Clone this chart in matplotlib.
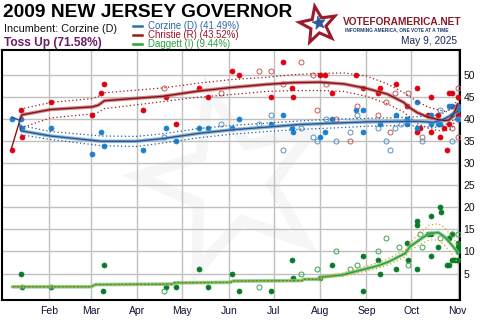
import matplotlib
matplotlib.use("Agg")
import matplotlib.pyplot as plt
import matplotlib.dates as mdates
from matplotlib.patches import Polygon
from matplotlib.lines import Line2D
import numpy as np
import pandas as pd

# ---------------- data ----------------
christie_fill_dates = ["01-07","01-13","01-14","02-02","03-02","03-08","03-10","04-05","04-20","04-27",
                       "05-12","05-18","06-03","06-08","06-29","07-07","07-13","07-14","08-01","08-04",
                       "08-09","08-25","08-30","09-09","09-10","09-21","09-28","10-05","10-05","10-07",
                       "10-12","10-14","10-14","10-19","10-20","10-23","10-25","10-26","10-26","10-28",
                       "11-01","11-01"]
christie_fill_vals = [33,42,36,44,41,46,48,42,45,39,
                      47,45,51,50,45,53,47,45,50,50,
                      46,50,47,46,47,48,43,47,37,38,
                      41,45,37,41,36,38,33,46,39,46,
                      45,41]
christie_open_dates = ["04-19","05-27","06-21","06-29","07-07","07-19","07-27","07-30","08-05","08-12",
                       "08-21","08-26","09-09","09-14","09-17","09-20","09-29","10-08","10-28","11-01","11-01"]
christie_open_vals = [47,46,51,51,48,53,50,42,48,40,35,43,41,44,37,46,46,36,38,47,36]

corzine_fill_dates = ["01-07","01-13","01-14","02-02","03-02","03-08","03-10","04-05","04-20","04-27",
                      "05-12","05-18","06-03","06-08","06-29","07-07","07-13","07-14","08-01","08-04",
                      "08-09","08-25","08-30","08-30","09-10","09-21","09-28","09-28","10-05","10-05",
                      "10-14","10-14","10-19","10-20","10-26","10-28","10-28","11-01","11-01","11-01"]
corzine_fill_vals = [40,40,38,38,32,37,34,33,38,35,
                     38,38,38,40,39,41,38,37,36,37,
                     40,42,42,37,39,41,40,39,44,38,
                     41,39,39,39,43,43,41,43,42,40]
corzine_open_dates = ["04-19","05-27","06-21","06-29","07-07","07-19","07-27","07-30","08-05","08-12",
                      "08-21","08-26","09-09","09-14","09-17","09-20","09-24","10-08","10-20","10-28","11-01"]
corzine_open_vals = [36,39,39,41,33,38,36,35,40,35,37,41,38,35,33,38,39,35,42,35,40]

daggett_fill_dates = ["01-13","01-14","02-02","03-09","03-10","04-20","04-27","05-12","05-18","06-03",
                      "06-08","06-29","07-13","07-14","08-01","08-09","08-30","08-30","09-09","09-10",
                      "09-21","09-28","09-29","10-05","10-05","10-05","10-12","10-14","10-14","10-14",
                      "10-19","10-20","10-21","10-25","10-26","10-26","10-28","10-28","10-30","11-01",
                      "11-01","11-01","11-01"]
daggett_fill_vals = [5,2,2,1,7,2,2,6,2,5,
                     1,1,8,4,4,7,9,1,8,5,
                     6,12,8,17,16,6,14,18,14,9,
                     11,20,19,7,7,13,14,8,8,8,
                     10,11,12]
daggett_open_dates = ["04-19","06-21","07-19","07-30","08-12","08-21","08-26","09-09","09-14","09-23",
                      "09-29","10-07","10-08","10-20","10-28","11-01"]
daggett_open_vals = [1,2,5,6,10,6,7,10,13,11,7,14,11,13,14,14]

# trend lines
christie_trend_dates = ["01-07","01-13","01-14","02-02","03-02","03-06","03-10","04-18","05-12","06-03",
                        "06-26","07-14","08-01","08-17","09-01","09-15","09-26","09-29","10-05","10-12",
                        "10-18","10-23","10-26","10-28","10-30","11-01"]
christie_trend = [33.5,40.3,41.0,42.2,42.8,43.2,44.2,45.2,46.4,47.2,
                  47.9,48.3,48.4,48.0,47.0,45.7,43.8,42.8,41.5,40.5,
                  40.0,39.7,39.8,40.5,41.8,43.5]
christie_band_dates = ["01-13","02-02","03-02","03-06","03-10","04-18","05-12","06-03","06-26","07-14",
                       "08-01","08-17","09-01","09-15","09-26","10-05","10-12","10-18","10-23","10-28","11-01"]
christie_hi = [42.3,43.8,44.7,45.2,46.0,47.1,48.2,49.0,49.5,50.1,
               50.4,50.5,49.8,48.0,46.0,44.0,42.8,42.2,41.8,42.3,44.5]
christie_lo = [38.0,40.3,41.2,41.6,42.4,44.0,45.0,45.6,46.3,46.5,
               46.5,46.3,45.2,43.5,41.6,39.0,38.0,37.5,37.3,37.8,41.5]

corzine_trend_dates = ["01-07","01-12","01-13","02-02","03-08","03-31","04-18","05-12","06-03","06-26",
                       "07-18","08-09","09-01","09-24","10-06","10-16","10-22","10-27","11-01"]
corzine_trend = [40.5,39.8,37.4,36.2,35.0,35.0,35.6,36.8,37.6,38.2,
                 38.8,39.1,39.4,39.5,39.5,39.3,39.9,40.8,41.8]
corzine_band_dates = ["01-13","02-02","03-08","03-31","04-18","05-12","06-03","06-26","07-18","08-09",
                      "09-01","09-24","10-06","10-16","10-22","10-27","11-01"]
corzine_hi = [38.6,37.2,36.2,36.1,36.7,37.9,38.6,39.1,39.6,40.0,40.2,40.4,40.6,40.8,41.3,42.2,43.3]
corzine_lo = [36.5,35.4,34.0,33.8,34.6,35.8,36.6,37.2,37.7,38.0,38.4,38.6,38.5,38.1,38.5,39.4,40.5]

daggett_trend_dates = ["01-07","03-01","03-04","04-24","04-26","06-02","06-04","07-20","07-21","08-01",
                       "08-02","08-16","08-25","09-01","09-09","09-16","09-27","09-30","10-08","10-13",
                       "10-19","10-23","10-28","10-31","11-01"]
daggett_trend = [2.0,2.0,2.5,2.6,2.9,3.0,3.3,3.4,3.7,3.7,
                 4.2,4.7,5.5,6.1,6.8,7.7,9.6,11.1,13.0,14.1,
                 14.3,13.4,11.5,10.2,9.4]
daggett_hi = [2.0,2.0,2.5,2.6,2.9,3.0,3.3,3.4,3.7,3.8,
              4.4,5.1,6.0,6.7,7.5,8.5,10.4,12.0,14.5,16.0,
              16.3,15.5,13.3,12.0,11.5]
daggett_lo = [2.0,2.0,2.5,2.6,2.9,3.0,3.3,3.4,3.7,3.6,
              4.0,4.4,5.0,5.6,6.2,7.0,8.8,10.3,11.8,12.6,
              12.6,11.5,9.5,8.0,7.0]

month_ticks = ["02-01","03-01","04-01","05-01","06-01","07-01","08-01","09-01","10-01","11-01"]
month_labels = ["Feb","Mar","Apr","May","Jun","Jul","Aug","Sep","Oct","Nov"]
y_ticks = [5,10,15,20,25,30,35,40,45,50]

legend_labels = ["Corzine (D) (41.49%)", "Christie (R) (43.52%)", "Daggett (I) (9.44%)"]

# ---------------- drawing ----------------
W, H = 490, 330
plt.rcParams['font.family'] = ['Liberation Sans', 'DejaVu Sans']

def D(lst):
    return pd.to_datetime(["2009-" + s for s in lst])

def fx(x):
    return x / W

def fy(y):
    return 1 - y / H

def star_pts(cx, cy, R, r, ang):
    pts = []
    for k in range(10):
        a = np.deg2rad(ang + 36 * k)
        rad = R if k % 2 == 0 else r
        pts.append((fx(cx + rad * np.cos(a)), fy(cy - rad * np.sin(a))))
    return pts

fig = plt.figure(figsize=(W / 100, H / 100), dpi=100)
fig.patch.set_facecolor('white')
ax = fig.add_axes([fx(2), fy(300), 458 / W, 250 / H])

# watermark star
wm = Polygon(star_pts(232, 182, 95, 40, 104.5), closed=True, facecolor='none',
             edgecolor='#f6f6f6', lw=8, transform=fig.transFigure, zorder=0.2)
ax.add_patch(wm)

ax.set_axisbelow(True)
ax.grid(True, color='#c0c0c0', lw=1.0)

RED_PT, BLUE_PT, GREEN_PT = '#e0000f', '#1a80d0', '#0a7a2a'
RED_OPEN, BLUE_OPEN, GREEN_OPEN = '#c85a5a', '#5a90c0', '#3aa552'

ms = 3.6
for dts, vals, c in [(christie_fill_dates, christie_fill_vals, RED_PT),
                     (corzine_fill_dates, corzine_fill_vals, BLUE_PT),
                     (daggett_fill_dates, daggett_fill_vals, GREEN_PT)]:
    ax.plot(D(dts), vals, 'o', ms=ms, color=c, mec=c, mew=0.5, zorder=3)
for dts, vals, c in [(christie_open_dates, christie_open_vals, RED_OPEN),
                     (corzine_open_dates, corzine_open_vals, BLUE_OPEN),
                     (daggett_open_dates, daggett_open_vals, GREEN_OPEN)]:
    ax.plot(D(dts), vals, 'o', ms=ms, mfc='none', mec=c, mew=0.7, zorder=3)

dot = (0, (1, 2))
# Christie
ax.plot(D(christie_band_dates), christie_hi, ls=dot, color='#a01818', lw=0.9, zorder=4)
ax.plot(D(christie_band_dates), christie_lo, ls=dot, color='#a01818', lw=0.9, zorder=4)
ax.plot(D(christie_trend_dates[1:]), christie_trend[1:], color='#bb5a5a', lw=2.6, alpha=0.7,
        solid_capstyle='butt', zorder=5)
ax.plot(D(christie_trend_dates), christie_trend, color='#8b1018', lw=1.0, zorder=6)
# Corzine
ax.plot(D(corzine_band_dates), corzine_hi, ls=dot, color='#1f5f9a', lw=0.9, zorder=4)
ax.plot(D(corzine_band_dates), corzine_lo, ls=dot, color='#1f5f9a', lw=0.9, zorder=4)
ax.plot(D(corzine_trend_dates[2:]), corzine_trend[2:], color='#6a98c6', lw=2.6, alpha=0.7,
        solid_capstyle='butt', zorder=5)
ax.plot(D(corzine_trend_dates), corzine_trend, color='#1f5a94', lw=1.0, zorder=6)
# Daggett
ax.plot(D(daggett_trend_dates), daggett_trend, color='#7cc87c', lw=2.6, alpha=0.85,
        solid_capstyle='butt', zorder=5)
ax.plot(D(daggett_trend_dates), daggett_trend, color='#2e9a3e', lw=1.0, zorder=6)
ax.plot(D(daggett_trend_dates), daggett_hi, ls=dot, color='#e0a020', lw=0.9, zorder=7)
ax.plot(D(daggett_trend_dates), daggett_lo, ls=dot, color='#e0a020', lw=0.9, zorder=7)

ax.set_xlim(pd.Timestamp("2008-12-31 14:00"), pd.Timestamp("2009-11-02 12:00"))
ax.set_ylim(-1, 55.7)
ax.set_xticks(D(month_ticks))
ax.set_xticklabels(month_labels)
ax.set_yticks(y_ticks)
ax.set_yticklabels([str(v) for v in y_ticks])
ax.yaxis.tick_right()
ax.tick_params(axis='y', length=0, pad=2.5, labelsize=7.5, colors='#111111')
ax.tick_params(axis='x', length=0, pad=4, labelsize=7.5, colors='#111133')
for s in ax.spines.values():
    s.set_color('black')
    s.set_linewidth(1.5)

# ---------------- header ----------------
fig.text(fx(3), fy(17), "2009 NEW JERSEY GOVERNOR", fontsize=13.8, fontweight='bold',
         color='black', va='baseline', ha='left')
fig.text(fx(4), fy(31.7), "Incumbent: Corzine (D)", fontsize=7.8, color='#111111',
         va='baseline', ha='left')
fig.text(fx(4), fy(46), "Toss Up (71.58%)", fontsize=8.6, fontweight='bold', color='#6a1b6a',
         va='baseline', ha='left')

leg_line_colors = ['#2f6ea8', '#9b1b1b', '#2ea02e']
leg_text_colors = ['#2a64a6', '#a0102a', '#2aa040']
leg_y = [26, 34.7, 43.7]
for lab, lc, tc, yy in zip(legend_labels, leg_line_colors, leg_text_colors, leg_y):
    fig.add_artist(Line2D([fx(133), fx(142)], [fy(yy), fy(yy)], color=lc, lw=1.8,
                          transform=fig.transFigure))
    fig.text(fx(148), fy(yy + 3.3), lab, fontsize=6.9, color=tc, va='baseline', ha='left')

# logo
fig.add_artist(Polygon(star_pts(318, 25, 19, 8, 100), closed=True, facecolor='none',
                       edgecolor='#9b1b2a', lw=2.2, transform=fig.transFigure))
fig.add_artist(Polygon(star_pts(319, 23, 7, 3, 100), closed=True, facecolor='#2a5a9a',
                       edgecolor='#2a5a9a', lw=0.5, transform=fig.transFigure))
fig.text(fx(343), fy(25), "VOTEFORAMERICA.NET", fontsize=7.3, fontweight='bold',
         color='#8b1a2a', va='baseline', ha='left')
fig.text(fx(345), fy(31.5), "INFORMING AMERICA, ONE VOTE AT A TIME", fontsize=3.4,
         fontweight='bold', color='#1a3a6a', va='baseline', ha='left')
fig.text(fx(457), fy(44.5), "May 9, 2025", fontsize=7.3, color='#1a2a5a',
         va='baseline', ha='right')

fig.savefig("out.png", dpi=100)
